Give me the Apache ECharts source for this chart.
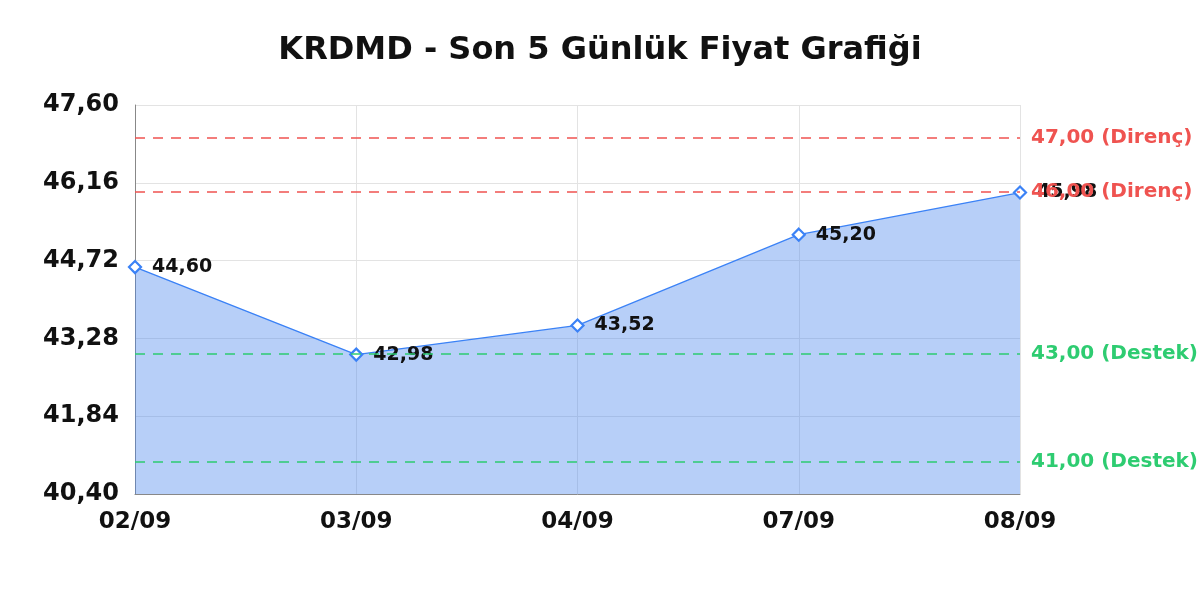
<!DOCTYPE html>
<html><head><meta charset="utf-8">
<script src="https://cdn.jsdelivr.net/npm/echarts@6/dist/echarts.min.js"></script>
<style>html,body{margin:0;padding:0;background:#fff}#c{width:1200px;height:600px}</style>
</head><body><div id="c"></div>
<script>
const categories = ['02/09','03/09','04/09','07/09','08/09'];
const prices = [44.60, 42.98, 43.52, 45.20, 45.98];
const resistance = [47.00, 46.00];
const support = [43.00, 41.00];
const yMin = 40.40, yMax = 47.60, yStep = 1.44;
const fmt = v => Number(v).toFixed(2).replace('.', ',');
const FONT = 'DejaVu Sans';
const chart = echarts.init(document.getElementById('c'));
const markData = [];
resistance.forEach(v => markData.push({yAxis: v, lineStyle:{color:'#ef5350'}, label:{color:'#ef5350', formatter: fmt(v) + ' (Direnç)'}}));
support.forEach(v => markData.push({yAxis: v, lineStyle:{color:'#2ecc71'}, label:{color:'#2ecc71', formatter: fmt(v) + ' (Destek)'}}));
chart.setOption({
  animation:false,
  title:{text:'KRDMD - Son 5 Günlük Fiyat Grafiği', left:'center', top:30,
    textStyle:{fontFamily:FONT, fontSize:32, fontWeight:'bold', color:'#111'}},
  grid:{left:135, right:180, top:105, bottom:106},
  xAxis:{type:'category', data:categories, boundaryGap:false,
    axisLine:{lineStyle:{color:'#888'}}, axisTick:{show:false},
    axisLabel:{fontFamily:FONT, fontSize:23, fontWeight:'bold', color:'#111', margin:17},
    splitLine:{show:true, lineStyle:{color:'#e3e3e3'}}},
  yAxis:{type:'value', min:yMin, max:yMax, interval:yStep,
    axisLine:{show:true, lineStyle:{color:'#888'}}, axisTick:{show:false},
    axisLabel:{fontFamily:FONT, fontSize:24, fontWeight:'bold', color:'#111', formatter:fmt, margin:16},
    splitLine:{lineStyle:{color:'#e3e3e3'}}},
  series:[{type:'line', data:prices, symbol:'diamond', symbolSize:12,
    itemStyle:{color:'#fff', borderColor:'#3b82f6', borderWidth:2.2},
    lineStyle:{color:'#3b82f6', width:1.3},
    areaStyle:{color:'rgb(75,135,237)', opacity:0.4},
    label:{show:true, position:'right', distance:10, formatter:p=>fmt(p.value),
      fontFamily:FONT, fontSize:19, fontWeight:'bold', color:'#111'},
    markLine:{silent:true, symbol:'none',
      lineStyle:{type:[10,8], width:1.5},
      label:{position:'end', distance:11, fontFamily:FONT, fontSize:20, fontWeight:'bold'},
      data:markData}
  }]
});
</script></body></html>
